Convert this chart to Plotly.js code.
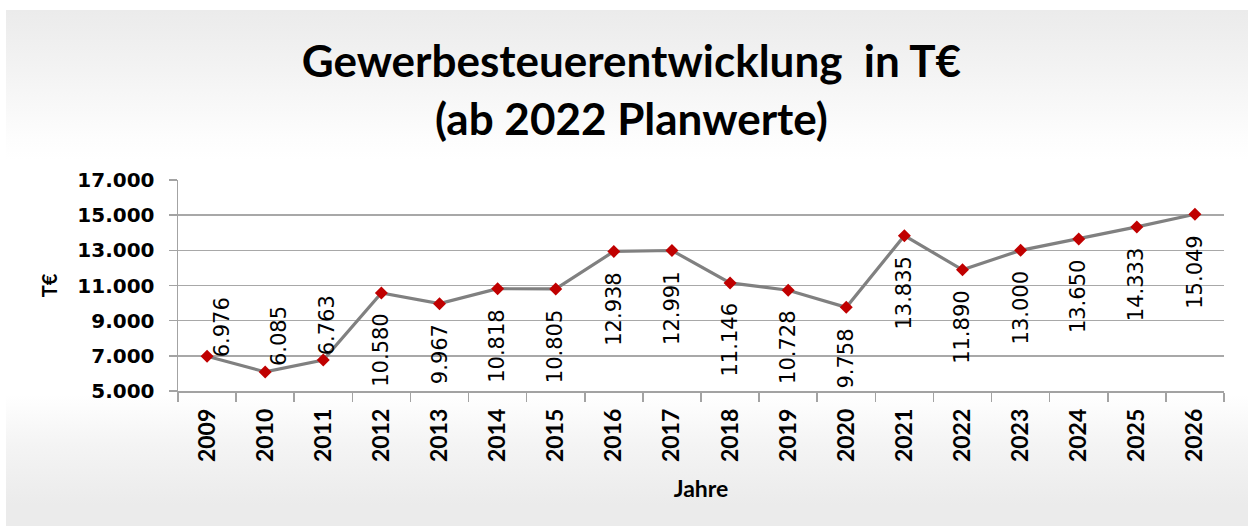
<!DOCTYPE html>
<html>
<head>
<meta charset="utf-8">
<script src="https://cdn.plot.ly/plotly-3.0.1.min.js"></script>
<style>
  html, body { margin: 0; padding: 0; background: #fff; }
  #chart {
    width: 1248px; height: 526px;
    background:
      linear-gradient(to bottom, #ebebeb 0px, #f3f3f3 60px, #fdfdfd 130px, #ffffff 150px, #ffffff 385px, #f4f4f4 435px, #ebebeb 495px, #ebebeb 100%) no-repeat 6px 10px / 1242px 516px,
      #ffffff;
  }
</style>
</head>
<body>
<div id="chart"></div>
<script>
// ---- data ----
const years = ["2009","2010","2011","2012","2013","2014","2015","2016","2017","2018","2019","2020","2021","2022","2023","2024","2025","2026"];
const values = [6976, 6085, 6763, 10580, 9967, 10818, 10805, 12938, 12991, 11146, 10728, 9758, 13835, 11890, 13000, 13650, 14333, 15049];
const yTicks = [5000, 7000, 9000, 11000, 13000, 15000, 17000];

const titleText = "Gewerbesteuerentwicklung  in T€<br>(ab 2022 Planwerte)";
const xTitle = "Jahre";
const yTitle = "T€";

function fmt(v) { return String(v).replace(/\B(?=(\d{3})+(?!\d))/g, "."); }

// label placement: first three above-right, rest below
const aboveShift = { 0: [15, -3], 1: [14, 4], 2: [4, 3] };

const annotations = years.map((yr, i) => {
  const base = {
    x: i, y: values[i], xref: "x", yref: "y",
    text: fmt(values[i]), showarrow: false, textangle: -90,
    font: { family: "DejaVu Sans", size: 21, color: "#000" }
  };
  if (aboveShift[i]) {
    return Object.assign(base, { xanchor: "center", yanchor: "bottom", xshift: aboveShift[i][0], yshift: aboveShift[i][1] });
  }
  return Object.assign(base, { xanchor: "center", yanchor: "top", xshift: 0, yshift: -19 });
});

const trace = {
  type: "scatter", mode: "lines+markers",
  x: years, y: values,
  line: { color: "#808080", width: 3.2 },
  marker: { symbol: "diamond", size: 10, color: "#c00000", line: { width: 0 } },
  cliponaxis: false,
  hoverinfo: "x+y"
};

const layout = {
  width: 1248, height: 526,
  margin: { l: 178, r: 24, t: 180, b: 135 },
  paper_bgcolor: "rgba(0,0,0,0)",
  plot_bgcolor: "#ffffff",
  separators: ",.",
  showlegend: false,
  title: {
    text: titleText,
    font: { family: "Lato", size: 44, color: "#000", weight: "bold" },
    x: 0.506, xref: "container", xanchor: "center",
    y: 0.853, yref: "container", yanchor: "top"
  },
  xaxis: {
    type: "category",
    tickangle: -90,
    tickson: "boundaries",
    ticks: "outside", ticklen: 9, tickcolor: "#a3a3a3", tickwidth: 1.5,
    showgrid: false,
    showline: true, linecolor: "#a3a3a3", linewidth: 1.5,
    tickfont: { family: "Lato", size: 23, color: "#000", weight: "bold" },
    ticklabelstandoff: 7,
    title: { text: xTitle, font: { family: "Lato", size: 23, color: "#000", weight: "bold" }, standoff: 20 },
    range: [-0.5, years.length - 0.5]
  },
  yaxis: {
    range: [5000, 17000],
    tickvals: yTicks,
    tickformat: ",d",
    ticks: "outside", ticklen: 8, tickcolor: "#a3a3a3", tickwidth: 1.5,
    showgrid: true, gridcolor: "#a8a8a8", gridwidth: 1.6,
    showline: true, linecolor: "#a3a3a3", linewidth: 1.5,
    zeroline: false,
    tickfont: { family: "DejaVu Sans", size: 20, color: "#000", weight: "bold" },
    ticklabelstandoff: 10,
    title: { text: yTitle, font: { family: "Lato", size: 20, color: "#000", weight: "bold" }, standoff: 14 }
  },
  annotations: annotations
};

Plotly.newPlot("chart", [trace], layout, { displayModeBar: false, staticPlot: true });
</script>
</body>
</html>
